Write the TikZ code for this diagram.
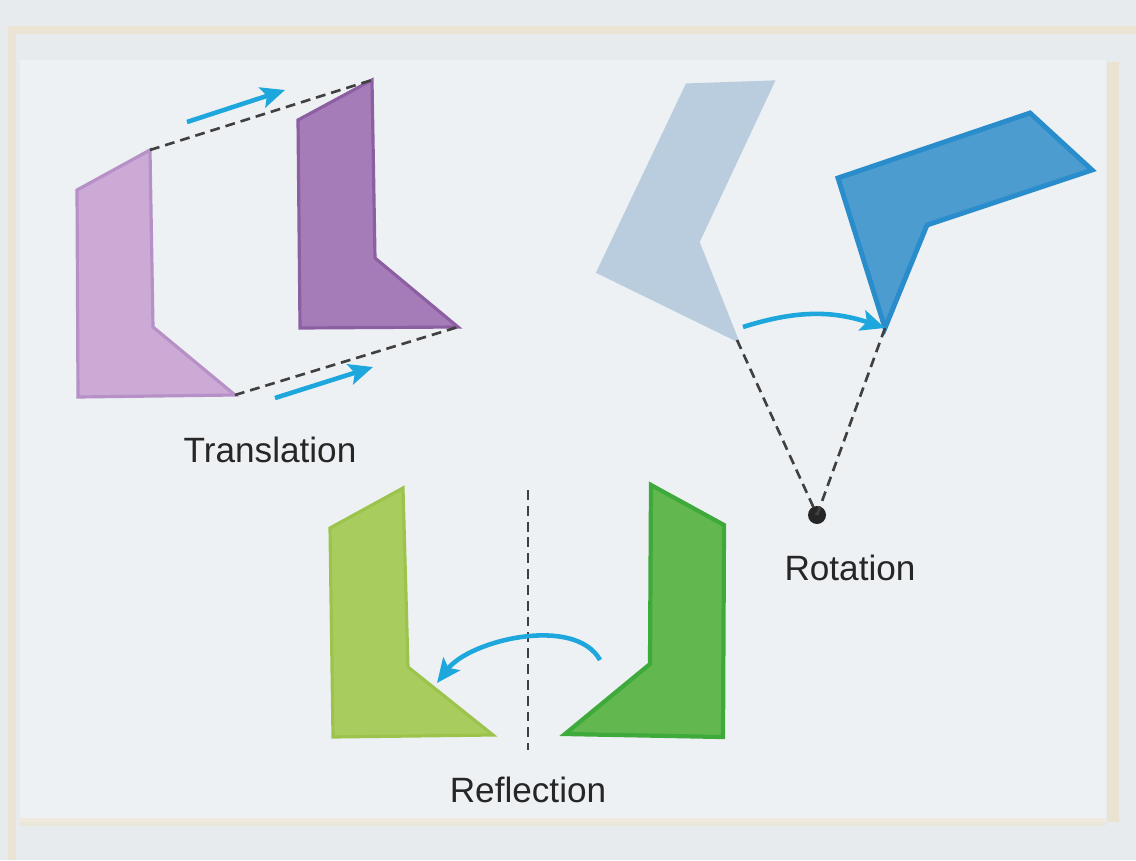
\documentclass[tikz,border=0pt]{standalone}
\usepackage{fontspec}
\setmainfont{Liberation Sans}
\usepackage{xcolor}
\usetikzlibrary{arrows.meta}

\definecolor{paper}{HTML}{E8EBED}
\definecolor{panel}{HTML}{EEF1F3}
\definecolor{beige}{HTML}{EFDDB6}
\definecolor{lilac}{HTML}{CBAAD6}
\definecolor{lilacedge}{HTML}{B690C6}
\definecolor{violet}{HTML}{A57CB8}
\definecolor{violetedge}{HTML}{8C5FA3}
\definecolor{paleblue}{HTML}{B9CDDF}
\definecolor{deepblue}{HTML}{4C9CD0}
\definecolor{deepblueedge}{HTML}{2A8DCB}
\definecolor{lime}{HTML}{A9CC5E}
\definecolor{limeedge}{HTML}{9CC44C}
\definecolor{leaf}{HTML}{62B84E}
\definecolor{leafedge}{HTML}{3FAA3C}
\definecolor{cyanarrow}{HTML}{1DA7DC}
\definecolor{labelgray}{HTML}{262626}

\begin{document}
\begin{tikzpicture}[
    x=0.01cm, y=-0.01cm,
    shapefill/.style={line width=0.9pt, line join=miter},
    guide/.style={dashed, dash pattern=on 2.8pt off 1.7pt, line width=0.75pt, draw=black!75},
    move/.style={-{Stealth[length=2.4mm, width=2.1mm, inset=0.5mm]}, line width=1.3pt, draw=cyanarrow},
    lbl/.style={font=\fontsize{10}{12}\selectfont, text=labelgray},
]
\useasboundingbox (0,0) rectangle (1136,860);
\fill[paper] (0,0) rectangle (1136,860);
\fill[panel] (20,60) rectangle (1106,822);
\draw[beige, line width=2pt, opacity=0.45] (12,860) -- (12,30) -- (1136,30);
\draw[beige, line width=3.5pt, opacity=0.5] (1113,62) -- (1113,822);
\draw[beige, line width=2pt, opacity=0.35] (20,822) -- (1106,822);

% translation
\coordinate (ta) at (150,150);
\coordinate (tb) at (77,190);
\coordinate (tc) at (78,397);
\coordinate (td) at (235,395);
\coordinate (te) at (153,327);
\coordinate (ua) at (372,80);
\coordinate (ub) at (298,120);
\coordinate (uc) at (300,328);
\coordinate (ud) at (458,327);
\coordinate (ue) at (375,258);
\filldraw[shapefill, fill=lilac, draw=lilacedge] (ta) -- (tb) -- (tc) -- (td) -- (te) -- cycle;
\filldraw[shapefill, fill=violet, draw=violetedge] (ua) -- (ub) -- (uc) -- (ud) -- (ue) -- cycle;
\draw[guide] (ta) -- (ua);
\draw[guide] (td) -- (ud);
\coordinate (tup0) at (187,122);
\coordinate (tup1) at (285,90);
\coordinate (tlo0) at (275,398);
\coordinate (tlo1) at (373,367);
\draw[move] (tup0) -- (tup1);
\draw[move] (tlo0) -- (tlo1);
\node[lbl] (translation) at (270,450) {Translation};

% rotation
\coordinate (ra) at (687,85);
\coordinate (rb) at (773,82);
\coordinate (rc) at (698,242);
\coordinate (rd) at (737,340);
\coordinate (re) at (598,272);
\coordinate (sa) at (838,178);
\coordinate (sb) at (1030,113);
\coordinate (sc) at (1092,170);
\coordinate (sd) at (927,225);
\coordinate (se) at (885,328);
\filldraw[shapefill, fill=paleblue, draw=paleblue] (ra) -- (rb) -- (rc) -- (rd) -- (re) -- cycle;
\filldraw[shapefill, line width=1.4pt, fill=deepblue, draw=deepblueedge] (sa) -- (sb) -- (sc) -- (sd) -- (se) -- cycle;
\node[circle, fill=black!85, inner sep=0pt, minimum size=0.18cm] (pivot) at (817,515) {};
\draw[guide] (rd) -- (pivot.center);
\draw[guide] (se) -- (pivot.center);
\coordinate (rot0) at (743,327);
\draw[move] (rot0) to[bend left=18] (se);
\node[lbl] (rotation) at (850,568) {Rotation};

% reflection
\coordinate (fa) at (403,488);
\coordinate (fb) at (330,528);
\coordinate (fc) at (333,737);
\coordinate (fd) at (493,735);
\coordinate (fe) at (408,667);
\coordinate (ga) at (651,485);
\coordinate (gb) at (724,525);
\coordinate (gc) at (723,737);
\coordinate (gd) at (565,734);
\coordinate (ge) at (650,664);
\filldraw[shapefill, fill=lime, draw=limeedge] (fa) -- (fb) -- (fc) -- (fd) -- (fe) -- cycle;
\filldraw[shapefill, line width=1.2pt, fill=leaf, draw=leafedge] (ga) -- (gb) -- (gc) -- (gd) -- (ge) -- cycle;
\coordinate (mirtop) at (528,490);
\coordinate (mirbot) at (528,750);
\draw[guide] (mirtop) -- (mirbot);
\coordinate (ref0) at (600,660);
\coordinate (ref1) at (437,683);
\draw[move] (ref0) .. controls (575,615) and (470,640) .. (ref1);
\node[lbl] (reflection) at (528,790) {Reflection};
\end{tikzpicture}
\end{document}
